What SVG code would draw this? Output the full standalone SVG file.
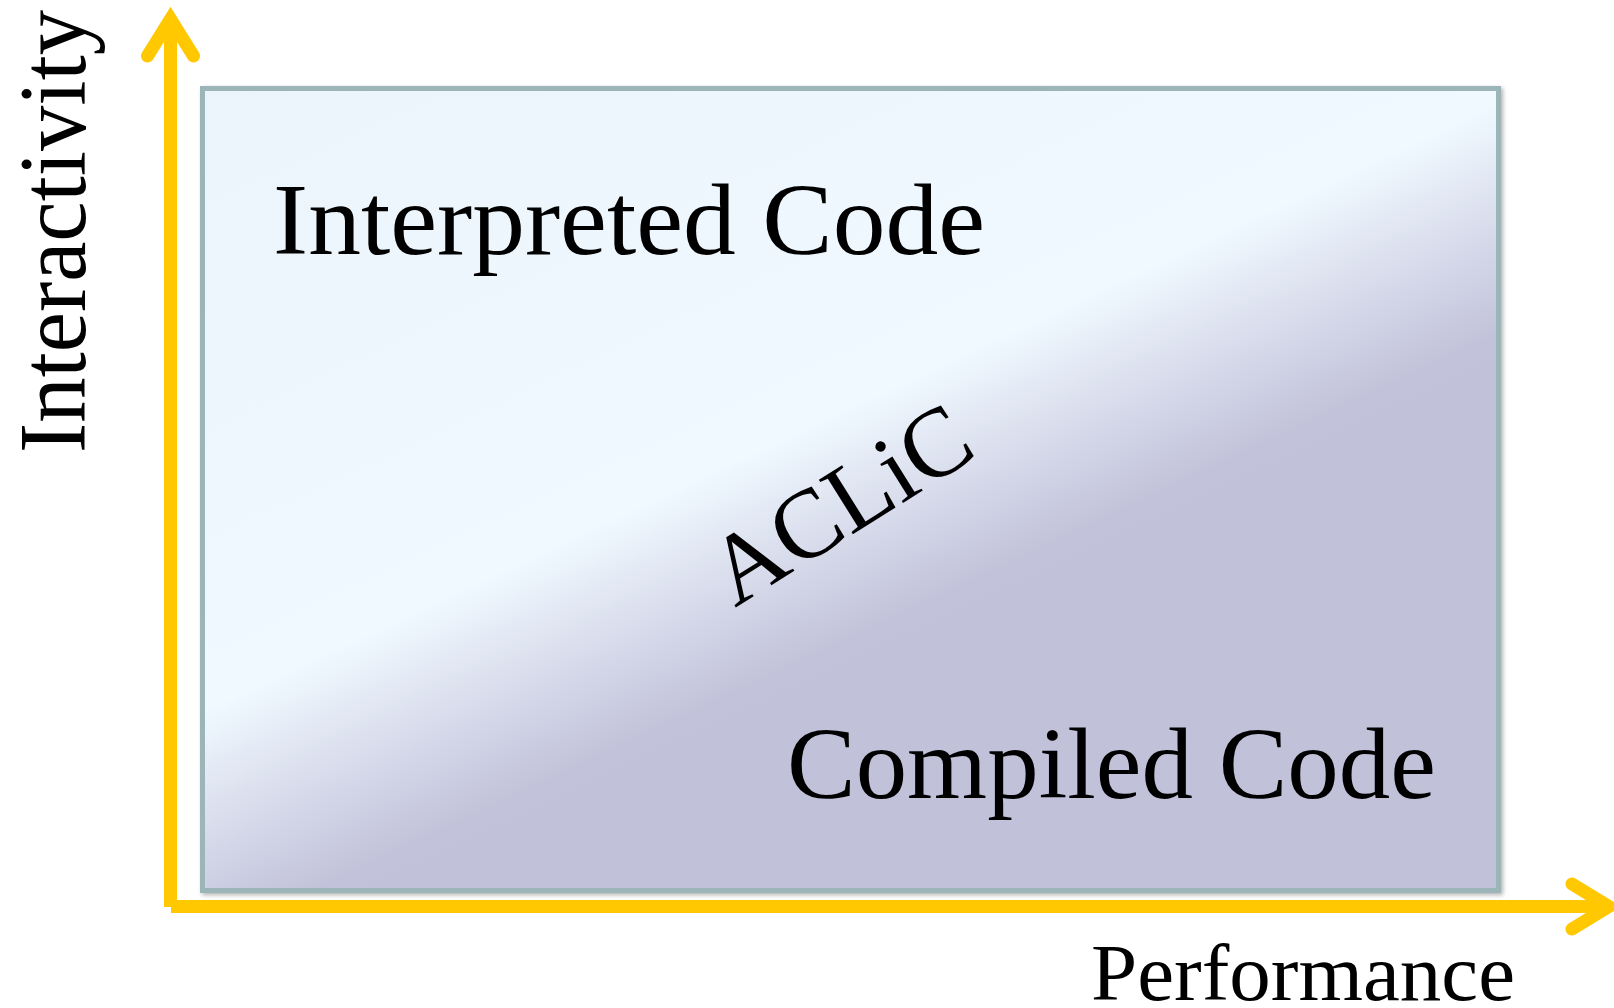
<svg xmlns="http://www.w3.org/2000/svg" width="1614" height="1008" viewBox="0 0 1614 1008">
<style>
.lbl{font-family:"Liberation Serif","Times New Roman",serif;fill:#000;}
.axis{fill:none;stroke:#ffc800;stroke-width:13;}
.head{fill:none;stroke:#ffc800;stroke-width:13;stroke-linecap:round;stroke-linejoin:miter;stroke-miterlimit:10;}
</style>
<defs>
<linearGradient id="bg" gradientUnits="userSpaceOnUse" x1="0" y1="0" x2="425" y2="905">
<stop offset="0.15" stop-color="#ecf4fb"/>
<stop offset="0.73" stop-color="#f0f9ff"/>
<stop offset="0.83" stop-color="#dadeed"/>
<stop offset="0.94" stop-color="#c2c2da"/>
<stop offset="1" stop-color="#c1c1da"/>
</linearGradient>
<filter id="sh" x="-5%" y="-5%" width="110%" height="110%">
<feDropShadow dx="2" dy="2" stdDeviation="2" flood-color="#000" flood-opacity="0.3"/>
</filter>
</defs>
<g id="panel">
<rect x="202.5" y="88.5" width="1296" height="802" fill="url(#bg)" stroke="#9bb5b9" stroke-width="5" filter="url(#sh)"/>
</g>
<g id="connectors">
<path class="axis" d="M170.5,907 V30"/>
<polyline class="head" points="147.5,56 170.5,19 193.5,56"/>
<path class="axis" d="M171,906.5 H1598"/>
<polyline class="head" points="1572,884 1609,906.5 1572,929"/>
</g>
<g id="interpreted">
<text class="lbl" x="273" y="254" font-size="102" textLength="712" lengthAdjust="spacingAndGlyphs">Interpreted Code</text>
</g>
<g id="aclic">
<text class="lbl" font-size="98" text-anchor="middle" transform="translate(841.5,506) rotate(-32)" x="0" y="30">ACLiC</text>
</g>
<g id="compiled">
<text class="lbl" x="787" y="798" font-size="102" textLength="649" lengthAdjust="spacingAndGlyphs">Compiled Code</text>
</g>
<g id="interactivity">
<text class="lbl" font-size="96" transform="translate(85,453) rotate(-90)" x="0" y="0" textLength="443" lengthAdjust="spacingAndGlyphs">Interactivity</text>
</g>
<g id="performance">
<text class="lbl" x="1091" y="1000" font-size="80" textLength="424" lengthAdjust="spacingAndGlyphs">Performance</text>
</g>
</svg>
